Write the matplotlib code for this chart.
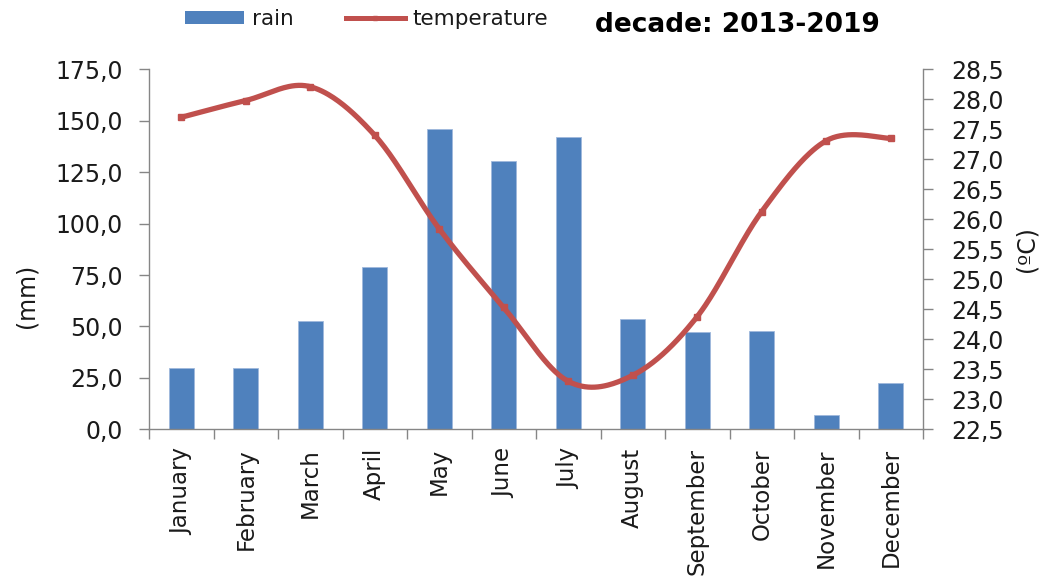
import numpy as np
import matplotlib
matplotlib.use("Agg")
import matplotlib.pyplot as plt
from matplotlib.patches import Patch
from matplotlib.lines import Line2D
from matplotlib.ticker import FixedLocator, FuncFormatter

plt.rcParams['font.family'] = ['DejaVu Sans']

# Monthly climate data, decade 2013-2019
months = ["January", "February", "March", "April", "May", "June", "July",
          "August", "September", "October", "November", "December"]
rain_mm = [29.8, 29.8, 52.8, 79.0, 145.8, 130.4, 142.0, 53.5, 47.3, 47.9, 6.8, 22.4]
temperature_c = [27.70, 27.98, 28.21, 27.40, 25.84, 24.53, 23.30, 23.40, 24.38, 26.13, 27.31, 27.35]

rain_ticks = [0, 25, 50, 75, 100, 125, 150, 175]
temp_ticks = [22.5, 23.0, 23.5, 24.0, 24.5, 25.0, 25.5, 26.0, 26.5, 27.0, 27.5, 28.0, 28.5]

BAR_COLOR = "#4F81BD"
LINE_COLOR = "#C0504D"
AXIS_COLOR = "#868686"
TEXT_COLOR = "#1a1a1a"


def smooth_curve(x, y, steps=40):
    """Catmull-Rom spline through the points (office-style smoothed line)."""
    x = np.asarray(x, float)
    y = np.asarray(y, float)
    px = np.concatenate([[x[0]], x, [x[-1]]])
    py = np.concatenate([[y[0]], y, [y[-1]]])
    xs, ys = [], []
    t = np.linspace(0, 1, steps)
    for i in range(1, len(px) - 2):
        for arr, out in ((px, xs), (py, ys)):
            p0, p1, p2, p3 = arr[i - 1], arr[i], arr[i + 1], arr[i + 2]
            m1 = (p2 - p0) / 2.0
            m2 = (p3 - p1) / 2.0
            h00 = 2 * t**3 - 3 * t**2 + 1
            h10 = t**3 - 2 * t**2 + t
            h01 = -2 * t**3 + 3 * t**2
            h11 = t**3 - t**2
            out.append(h00 * p1 + h10 * m1 + h01 * p2 + h11 * m2)
    return np.concatenate(xs), np.concatenate(ys)


W, H = 1054, 579
fig = plt.figure(figsize=(W / 100, H / 100), dpi=100)
ax = fig.add_axes([149 / W, 1 - 429.3 / H, 774 / W, 360 / H])

x = np.arange(len(months))
ax.bar(x, rain_mm, width=0.39, color=BAR_COLOR, edgecolor="#9fb9dc",
       linewidth=0.6, zorder=2)
ax.set_xlim(-0.5, len(months) - 0.5)
ax.set_ylim(rain_ticks[0], rain_ticks[-1])

fmt_comma = FuncFormatter(lambda v, p: f"{v:.1f}".replace(".", ","))
ax.yaxis.set_major_locator(FixedLocator(rain_ticks))
ax.yaxis.set_major_formatter(fmt_comma)

ax.set_xticks(x)
ax.set_xticklabels(months, rotation=90, va="top", ha="center")
ax.set_xticks(np.arange(-0.5, len(months)), minor=True)
ax.tick_params(axis="x", which="major", length=0, pad=13.5, labelsize=16.5,
               labelcolor=TEXT_COLOR)
ax.tick_params(axis="x", which="minor", length=7, width=1.0, color=AXIS_COLOR,
               direction="out")
ax.tick_params(axis="y", length=7, width=1.0, color=AXIS_COLOR,
               direction="out", pad=12, labelsize=17, labelcolor=TEXT_COLOR)

ax2 = ax.twinx()
sx, sy = smooth_curve(x, temperature_c)
ax2.plot(sx, sy, color=LINE_COLOR, lw=3.8, solid_capstyle="round", zorder=3)
ax2.plot(x, temperature_c, ls="none", marker="s", ms=5, color=LINE_COLOR,
         zorder=4)
ax2.set_ylim(temp_ticks[0], temp_ticks[-1])
ax2.yaxis.set_major_locator(FixedLocator(temp_ticks))
ax2.yaxis.set_major_formatter(fmt_comma)
ax2.tick_params(axis="y", length=7, width=1.0, color=AXIS_COLOR,
                direction="out", pad=13, labelsize=17, labelcolor=TEXT_COLOR)

for a in (ax, ax2):
    a.spines["top"].set_visible(False)
    for s in ("left", "right", "bottom"):
        a.spines[s].set_color(AXIS_COLOR)
        a.spines[s].set_linewidth(1.0)
ax.spines["right"].set_visible(False)
ax2.spines["left"].set_visible(False)
ax2.spines["bottom"].set_visible(False)

ax.set_ylabel("(mm)", fontsize=17, color=TEXT_COLOR)
ax.yaxis.set_label_coords(-0.143, 0.37)
ax2.set_ylabel("(ºC)", fontsize=17, color=TEXT_COLOR, rotation=90)
ax2.yaxis.set_label_coords(1.1176, 0.5)

handles = [
    Patch(facecolor=BAR_COLOR, edgecolor="none", label="rain"),
    Line2D([0], [0], color=LINE_COLOR, lw=3.6, marker="s", ms=3,
           label="temperature"),
]
fig.legend(handles=handles, loc="center left",
           bbox_to_anchor=(185 / W, 1 - 19 / H), ncol=2, frameon=False,
           fontsize=15.5, borderpad=0, borderaxespad=0,
           handlelength=2.75, handleheight=0.56, handletextpad=0.37,
           columnspacing=2.4, labelcolor=TEXT_COLOR)

fig.text(595 / W, 1 - 25 / H, "decade: 2013-2019", fontsize=19,
         fontweight="bold", color="black", ha="left", va="center")

fig.savefig("out.png", dpi=100)
